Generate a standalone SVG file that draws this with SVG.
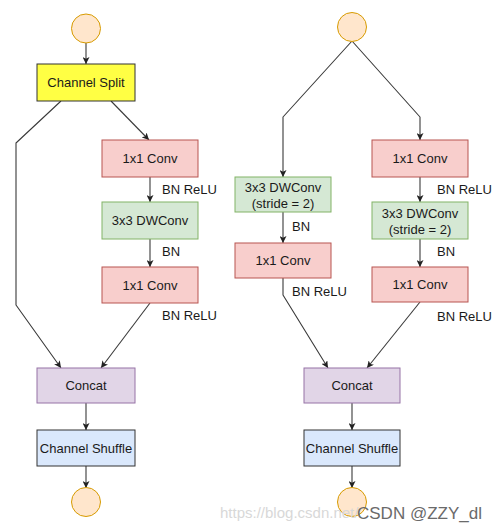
<svg xmlns="http://www.w3.org/2000/svg" width="501" height="531" viewBox="0 0 501 531">
<style>
text{font-family:"Liberation Sans",Arial,sans-serif;font-size:13px;fill:#1a1a1a}
.c{text-anchor:middle}
.e{fill:none;stroke:#3a3a3a;stroke-width:1.1;stroke-linejoin:round;marker-end:url(#a)}
.circ{fill:#ffe6cc;stroke:#d79b00;stroke-width:1}
.yel{fill:#ffff44;stroke:#333;stroke-width:1}
.pink{fill:#f8cecc;stroke:#b85450;stroke-width:1}
.grn{fill:#d5e8d4;stroke:#82b366;stroke-width:1}
.pur{fill:#e1d5e7;stroke:#9673a6;stroke-width:1}
.blu{fill:#dae8fc;stroke:#333;stroke-width:1}
.wm{font-size:15px;fill:#d8d8d8}
.wm2{font-size:17px;fill:#6a6a6a}
</style>
<defs>
<marker id="a" viewBox="0 0 8 8" refX="8" refY="4" markerWidth="7" markerHeight="7" markerUnits="userSpaceOnUse" orient="auto">
<path d="M0,0 L8,4 L0,8 L2,4 Z" fill="#222"/>
</marker>
</defs>
<rect width="501" height="531" fill="#fff"/>
<g id="connectors">
<path class="e" d="M86,43 V64"/>
<path class="e" d="M61,101 L16,143 V305 L61,368"/>
<path class="e" d="M111,101 L149,140"/>
<path class="e" d="M150,177 V202"/>
<path class="e" d="M150,239 V267"/>
<path class="e" d="M150,303 L101,368"/>
<path class="e" d="M86,403 V430"/>
<path class="e" d="M86,466 V488"/>
<path class="e" d="M352,41 L283,117 V177"/>
<path class="e" d="M352,41 L420,117 V140"/>
<path class="e" d="M420,177 V202"/>
<path class="e" d="M420,239 V267"/>
<path class="e" d="M283,212 V243"/>
<path class="e" d="M283,278 V295 L328,368"/>
<path class="e" d="M420,302 L367,368"/>
<path class="e" d="M352,403 V430"/>
<path class="e" d="M352,466 V488"/>
</g>
<g id="labels">
<text x="162" y="193.5">BN ReLU</text>
<text x="162" y="255.5">BN</text>
<text x="162" y="319.5">BN ReLU</text>
<text x="292" y="230.5">BN</text>
<text x="292" y="295.5">BN ReLU</text>
<text x="437" y="193.5">BN ReLU</text>
<text x="437" y="255.5">BN</text>
<text x="437" y="320.5">BN ReLU</text>
</g>
<g id="in1"><circle class="circ" cx="86" cy="28.5" r="14.5"/></g>
<g id="split"><rect class="yel" x="37" y="64" width="98" height="37"/><text class="c" x="86" y="87">Channel Split</text></g>
<g id="l_conv1"><rect class="pink" x="102" y="140" width="96" height="37"/><text class="c" x="150" y="163">1x1 Conv</text></g>
<g id="l_dw"><rect class="grn" x="102" y="202" width="96" height="37"/><text class="c" x="150" y="225">3x3 DWConv</text></g>
<g id="l_conv2"><rect class="pink" x="102" y="267" width="96" height="36"/><text class="c" x="150" y="289.5">1x1 Conv</text></g>
<g id="l_concat"><rect class="pur" x="37" y="368" width="98" height="35"/><text class="c" x="86" y="390">Concat</text></g>
<g id="l_shuffle"><rect class="blu" x="37" y="430" width="98" height="36"/><text class="c" x="86" y="452.5">Channel Shuffle</text></g>
<g id="out1"><circle class="circ" cx="86" cy="502" r="14.5"/></g>
<g id="in2"><circle class="circ" cx="352" cy="27" r="14.5"/></g>
<g id="r_dw1"><rect class="grn" x="235" y="177" width="96" height="35"/><text class="c" x="283" y="191.5">3x3 DWConv</text><text class="c" x="283" y="207.5">(stride = 2)</text></g>
<g id="r_conv1"><rect class="pink" x="235" y="243" width="96" height="35"/><text class="c" x="283" y="265">1x1 Conv</text></g>
<g id="r_conv2"><rect class="pink" x="372" y="140" width="96" height="37"/><text class="c" x="420" y="163">1x1 Conv</text></g>
<g id="r_dw2"><rect class="grn" x="372" y="202" width="96" height="37"/><text class="c" x="420" y="217.5">3x3 DWConv</text><text class="c" x="420" y="233.5">(stride = 2)</text></g>
<g id="r_conv3"><rect class="pink" x="372" y="267" width="96" height="35"/><text class="c" x="420" y="289">1x1 Conv</text></g>
<g id="r_concat"><rect class="pur" x="304" y="368" width="96" height="35"/><text class="c" x="352" y="390">Concat</text></g>
<g id="r_shuffle"><rect class="blu" x="304" y="430" width="96" height="36"/><text class="c" x="352" y="452.5">Channel Shuffle</text></g>
<g id="out2"><circle class="circ" cx="352" cy="502" r="14.5"/></g>
<g id="watermark">
<text class="wm" x="220" y="518">https://blog.csdn.net/</text>
<text class="wm2" x="357" y="519">CSDN @ZZY_dl</text>
</g>
</svg>
